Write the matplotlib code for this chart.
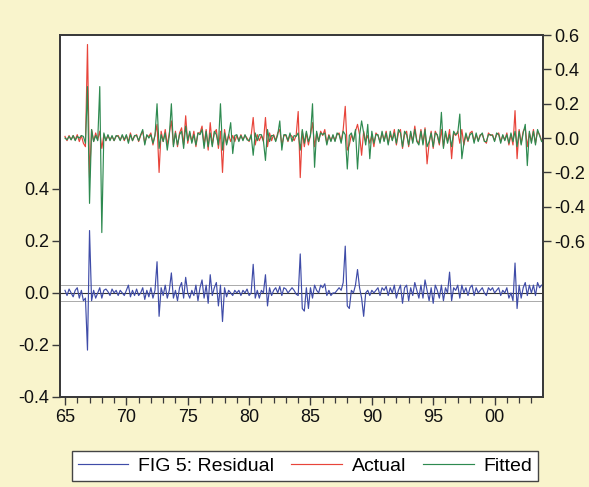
import matplotlib
matplotlib.use("Agg")
import matplotlib.pyplot as plt
from matplotlib.ticker import MultipleLocator, FixedLocator

plt.rcParams['font.family'] = ['Liberation Sans', 'DejaVu Sans']

# bi-monthly observations, 6 per year, 1965 .. 2003
start_year = 65
per_year = 6

residual = [
    0.01, -0.01, 0.015, 0.00, -0.015, 0.01,     # 65
    0.02, -0.02, 0.01, -0.03, -0.02, -0.22,     # 66
    0.24, -0.03, 0.01, -0.02, 0.00, 0.02,       # 67
    -0.02, 0.01, 0.015, 0.005, -0.01, 0.015,    # 68
    0.00, 0.01, -0.01, 0.01, 0.00, -0.01,       # 69
    0.01, 0.03, -0.015, 0.01, -0.01, 0.015,     # 70
    -0.01, 0.00, 0.02, -0.025, 0.01, -0.015,    # 71
    0.02, -0.02, 0.01, 0.12, -0.09, 0.02,       # 72
    -0.01, 0.03, -0.02, 0.01, 0.077, -0.02,     # 73
    0.01, -0.03, 0.02, 0.04, -0.02, 0.06,       # 74
    0.00, -0.02, 0.01, -0.01, 0.03, -0.03,      # 75
    0.02, 0.05, -0.02, 0.03, -0.04, 0.07,       # 76
    -0.01, 0.02, 0.04, -0.05, 0.03, -0.11,      # 77
    0.02, -0.015, 0.01, 0.00, -0.01, 0.01,      # 78
    0.00, 0.01, -0.01, 0.01, 0.00, 0.015,       # 79
    -0.01, 0.00, 0.11, -0.02, 0.01, -0.02,      # 80
    0.01, 0.00, 0.07, -0.05, 0.02, -0.01,       # 81
    0.01, 0.02, 0.00, 0.025, -0.01, 0.02,       # 82
    0.015, 0.00, 0.01, 0.02, 0.01, -0.005,      # 83
    -0.01, 0.15, -0.06, -0.07, 0.02, -0.06,     # 84
    0.02, -0.02, 0.03, 0.01, 0.00, 0.03,        # 85
    0.02, 0.035, -0.01, 0.01, -0.01, 0.00,      # 86
    0.00, 0.01, 0.02, 0.01, 0.04, 0.18,         # 87
    -0.05, -0.06, 0.01, 0.00, 0.03, 0.09,       # 88
    0.02, -0.02, -0.09, 0.00, 0.01, -0.01,      # 89
    0.01, 0.00, 0.01, 0.02, -0.01, 0.02,        # 90
    0.01, 0.025, -0.01, 0.02, 0.00, 0.03,       # 91
    -0.02, 0.01, 0.03, -0.04, 0.02, 0.03,       # 92
    -0.03, 0.02, -0.01, 0.04, 0.01, -0.02,      # 93
    0.03, -0.02, 0.05, 0.01, -0.03, 0.02,       # 94
    -0.04, 0.03, 0.01, -0.02, 0.03, -0.03,      # 95
    0.02, 0.00, 0.08, -0.03, 0.02, 0.01,        # 96
    0.03, -0.02, 0.03, 0.00, 0.02, -0.01,       # 97
    0.02, 0.03, -0.01, 0.02, 0.00, 0.01,        # 98
    0.02, 0.00, -0.01, 0.02, 0.01, 0.02,        # 99
    0.00, 0.01, 0.02, -0.01, 0.01, 0.00,        # 00
    0.02, -0.02, 0.00, -0.03, 0.115, -0.06,     # 01
    0.03, -0.02, 0.02, 0.04, -0.01, 0.03,       # 02
    0.00, 0.03, -0.01, 0.04, 0.02, 0.03,        # 03
]

actual = [
    0.01, -0.015, 0.015, -0.01, 0.015, -0.01,   # 65
    0.02, -0.02, 0.015, -0.03, -0.05, 0.545,    # 66
    -0.23, 0.05, -0.02, 0.03, -0.01, 0.04,      # 67
    -0.06, 0.02, -0.015, 0.015, -0.01, 0.01,    # 68
    -0.015, 0.01, 0.015, -0.01, 0.015, -0.015,  # 69
    0.015, -0.02, 0.03, -0.015, 0.01, 0.02,     # 70
    -0.02, 0.015, 0.04, -0.03, 0.015, 0.01,     # 71
    0.03, -0.04, 0.02, 0.08, -0.20, 0.04,       # 72
    -0.02, 0.05, -0.04, 0.03, 0.10, -0.04,      # 73
    0.04, -0.05, 0.03, 0.06, -0.04, 0.13,       # 74
    -0.03, 0.03, -0.02, 0.04, -0.05, 0.03,      # 75
    0.03, 0.07, -0.04, 0.05, -0.07, 0.09,       # 76
    -0.04, 0.03, 0.05, -0.06, 0.04, -0.20,      # 77
    0.05, -0.03, 0.02, -0.02, 0.015, -0.02,     # 78
    0.015, -0.015, 0.02, -0.01, 0.015, 0.00,    # 79
    -0.02, 0.015, 0.12, -0.04, 0.02, -0.015,    # 80
    0.015, -0.02, 0.12, -0.05, 0.03, -0.015,    # 81
    0.02, -0.015, 0.03, 0.05, -0.04, 0.015,     # 82
    0.015, -0.02, 0.02, 0.01, -0.015, 0.015,    # 83
    0.155, -0.23, 0.04, -0.05, 0.03, -0.04,     # 84
    0.02, 0.09, -0.05, 0.03, -0.02, 0.04,       # 85
    0.015, 0.05, -0.03, 0.02, -0.015, 0.015,    # 86
    -0.015, 0.02, 0.03, -0.02, 0.05, 0.185,     # 87
    -0.07, -0.04, 0.02, -0.015, 0.04, 0.08,     # 88
    0.02, -0.10, 0.04, -0.02, 0.015, -0.03,     # 89
    0.02, -0.05, 0.03, 0.015, -0.02, 0.03,      # 90
    -0.015, 0.04, -0.03, 0.02, -0.01, 0.05,     # 91
    -0.04, 0.03, 0.05, -0.06, 0.02, 0.04,       # 92
    -0.05, 0.03, -0.02, 0.07, -0.015, -0.03,    # 93
    0.05, -0.03, 0.06, -0.15, -0.03, 0.04,      # 94
    -0.06, 0.04, 0.015, -0.04, 0.05, -0.05,     # 95
    0.03, -0.02, 0.05, -0.12, 0.03, 0.015,      # 96
    0.04, -0.03, 0.05, -0.04, 0.02, -0.02,      # 97
    0.03, 0.04, -0.02, 0.02, -0.015, 0.02,      # 98
    0.02, -0.015, -0.03, 0.03, 0.015, 0.02,     # 99
    -0.015, 0.02, 0.03, -0.02, 0.015, -0.01,    # 00
    0.03, -0.04, 0.02, -0.04, 0.16, -0.12,      # 01
    0.05, -0.03, 0.04, 0.06, -0.05, 0.03,       # 02
    -0.02, 0.05, -0.03, 0.04, 0.02, -0.015,     # 03
]

fitted = [
    0.00, -0.01, 0.01, -0.01, 0.015, -0.015,    # 65
    0.01, 0.00, 0.015, 0.01, -0.03, 0.30,       # 66
    -0.38, 0.05, -0.02, 0.015, -0.015, 0.30,    # 67
    -0.55, 0.03, -0.015, 0.02, -0.015, 0.015,   # 68
    -0.015, 0.015, 0.01, -0.015, 0.02, -0.01,   # 69
    0.02, -0.03, 0.02, -0.015, 0.015, 0.015,    # 70
    -0.015, 0.02, 0.05, -0.04, 0.02, 0.00,      # 71
    0.02, -0.03, 0.015, 0.20, -0.06, 0.02,      # 72
    -0.02, 0.03, -0.07, 0.015, 0.20, -0.05,     # 73
    0.03, -0.04, 0.02, 0.04, -0.06, 0.07,       # 74
    -0.015, 0.04, -0.03, 0.02, -0.04, 0.03,     # 75
    0.02, 0.05, -0.06, 0.04, -0.05, 0.03,       # 76
    -0.05, 0.04, 0.02, -0.04, 0.20, -0.07,      # 77
    0.03, -0.04, 0.015, 0.09, -0.09, 0.015,     # 78
    0.02, -0.02, 0.015, -0.015, 0.02, -0.01,    # 79
    -0.015, 0.02, -0.10, 0.03, -0.015, 0.02,    # 80
    0.02, -0.015, -0.13, 0.05, -0.02, 0.015,    # 81
    0.015, -0.02, 0.02, 0.10, -0.07, 0.02,      # 82
    0.02, -0.015, 0.03, -0.02, 0.015, 0.01,     # 83
    0.03, -0.07, 0.05, -0.03, 0.04, -0.02,      # 84
    0.015, 0.20, -0.17, 0.04, -0.02, 0.03,      # 85
    0.02, 0.03, -0.04, 0.015, -0.02, 0.02,      # 86
    -0.02, 0.03, 0.02, -0.03, 0.04, 0.02,       # 87
    -0.18, 0.015, 0.03, -0.02, 0.05, -0.18,     # 88
    0.015, 0.10, 0.03, -0.04, 0.08, -0.12,      # 89
    0.04, -0.03, 0.02, 0.02, -0.03, 0.04,       # 90
    -0.02, 0.03, -0.04, 0.04, -0.015, 0.03,     # 91
    -0.03, 0.05, 0.03, -0.05, 0.04, 0.02,       # 92
    -0.04, 0.04, -0.03, 0.05, -0.02, -0.04,     # 93
    0.04, -0.04, 0.05, -0.05, -0.02, 0.03,      # 94
    -0.05, 0.03, 0.02, -0.03, 0.15, -0.06,      # 95
    0.04, -0.03, 0.02, -0.05, 0.04, 0.02,       # 96
    0.03, 0.14, -0.12, -0.03, 0.03, -0.015,     # 97
    0.02, 0.03, -0.03, 0.03, -0.02, 0.015,      # 98
    0.03, -0.02, -0.02, 0.02, 0.02, 0.015,      # 99
    -0.02, 0.03, 0.02, -0.03, 0.02, -0.015,     # 00
    0.02, -0.03, 0.03, -0.02, 0.04, -0.05,      # 01
    0.04, -0.04, 0.03, 0.08, -0.16, 0.04,       # 02
    -0.03, 0.04, -0.04, 0.05, 0.015, -0.02,     # 03
]

resid_band = 0.03
x_ticks = [65, 70, 75, 80, 85, 90, 95, 100]
x_tick_labels = ["65", "70", "75", "80", "85", "90", "95", "00"]
left_ticks = [-0.4, -0.2, 0.0, 0.2, 0.4]
right_ticks = [-0.6, -0.4, -0.2, 0.0, 0.2, 0.4, 0.6]

x = [start_year + i / per_year for i in range(len(residual))]

bg = '#F9F4CC'
frame = '#3a3a3a'
c_res = '#3F4CA8'
c_act = '#E8443A'
c_fit = '#2E8A50'

fig = plt.figure(figsize=(5.89, 4.87), dpi=100, facecolor=bg)
ax = fig.add_axes([0.102, 0.185, 0.820, 0.743])
ax.set_facecolor('white')

ax.axhline(resid_band, color='#aaaaaa', lw=0.7, zorder=1)
ax.axhline(-resid_band, color='#aaaaaa', lw=0.7, zorder=1)
ax.axhline(0.0, color='#333333', lw=0.8, zorder=1)
l1, = ax.plot(x, residual, color=c_res, lw=0.85, zorder=2, label='FIG 5: Residual')
ax.set_xlim(64.6, 103.95)
ax.set_ylim(-0.4, 0.992)
ax.set_yticks(left_ticks)
ax.set_yticklabels([f"{v:.1f}" for v in left_ticks])
ax.xaxis.set_major_locator(FixedLocator(x_ticks))
ax.set_xticklabels(x_tick_labels)
ax.xaxis.set_minor_locator(MultipleLocator(1))

ax2 = ax.twinx()
l2, = ax2.plot(x, actual, color=c_act, lw=0.85, zorder=2, label='Actual')
l3, = ax2.plot(x, fitted, color=c_fit, lw=0.85, zorder=3, label='Fitted')
ax2.set_ylim(-1.507, 0.59)
ax2.set_yticks(right_ticks)
ax2.set_yticklabels([f"{v:.1f}" for v in right_ticks])

for a in (ax, ax2):
    for s in a.spines.values():
        s.set_color(frame)
        s.set_linewidth(1.3)
    a.tick_params(which='major', direction='out', length=6, width=1.0,
                  color=frame, labelsize=13, labelcolor='#111111', pad=2)
    a.tick_params(which='minor', direction='out', length=4, width=0.9, color=frame)
ax.tick_params(axis='x', pad=3)

leg = fig.legend([l1, l2, l3], ['FIG 5: Residual', 'Actual', 'Fitted'],
                 loc='center', bbox_to_anchor=(0.518, 0.043), ncol=3,
                 frameon=True, fancybox=False, edgecolor='#444444',
                 facecolor='white', framealpha=1, fontsize=14,
                 handlelength=2.6, columnspacing=0.9, handletextpad=0.5,
                 borderpad=0.3, borderaxespad=0)
leg.get_frame().set_linewidth(1.0)

fig.savefig('out.png', dpi=100, facecolor=bg)
